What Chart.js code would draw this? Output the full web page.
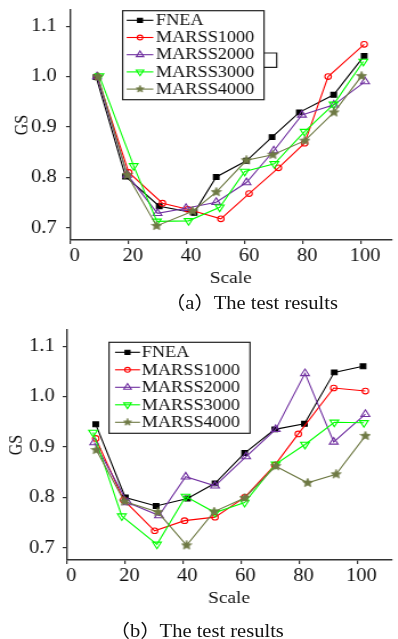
<!DOCTYPE html>
<html><head><meta charset="utf-8">
<script src="https://cdn.jsdelivr.net/npm/chart.js@4/dist/chart.umd.min.js"></script>
<style>
html,body{margin:0;padding:0;background:#fff;}
#stage{position:absolute;left:0;top:0;width:349px;height:639px;transform:scaleX(1.14);transform-origin:0 0;}
canvas{position:absolute;left:0;}
.cap{position:absolute;font-size:18px;font-family:"Liberation Serif","Noto Sans CJK SC",serif;line-height:20px;white-space:nowrap;color:#111;}
</style></head><body>
<div id="stage">
<canvas id="ca" width="349" height="290" style="top:0;width:349px;height:290px"></canvas>
<div class="cap" style="left:144.5px;top:293px">（a）<span style="margin-left:-1px">The test results</span></div>
<canvas id="cb" width="349" height="290" style="top:320px;width:349px;height:290px"></canvas>
<div class="cap" style="left:96px;top:621px">（b）<span style="margin-left:-1px">The test results</span></div>
</div>
<script>
const seriesNames = ['FNEA','MARSS1000','MARSS2000','MARSS3000','MARSS4000'];
const xTicks = [0,20,40,60,80,100];
const yTicks = [0.7,0.8,0.9,1.0,1.1];
const xTitle = 'Scale';
const yTitle = 'GS';

// (a)
const aFneaX = [9.0, 19.1, 30.7, 42.7, 50.3, 60.7, 69.5, 78.9, 90.7, 101.2];
const aFneaY = [0.999, 0.802, 0.743, 0.730, 0.801, 0.833, 0.880, 0.929, 0.964, 1.041];
const a1000X = [9.4, 20.2, 31.8, 40.5, 51.9, 61.6, 71.7, 80.7, 88.8, 101.2];
const a1000Y = [1.000, 0.810, 0.749, 0.737, 0.718, 0.768, 0.819, 0.868, 1.000, 1.064];
const a2000X = [9.3, 19.7, 30.1, 39.9, 50.3, 60.7, 70.1, 79.8, 90.8, 101.5];
const a2000Y = [1.000, 0.805, 0.729, 0.739, 0.751, 0.790, 0.853, 0.924, 0.944, 0.990];
const a3000X = [10.1, 21.9, 29.9, 40.8, 51.5, 60.1, 70.3, 80.7, 90.7, 100.9];
const a3000Y = [1.001, 0.823, 0.713, 0.714, 0.741, 0.812, 0.827, 0.891, 0.945, 1.030];
const a4000X = [9.6, 19.7, 29.8, 42.2, 50.3, 60.7, 69.8, 80.8, 90.8, 100.3];
const a4000Y = [1.000, 0.805, 0.704, 0.733, 0.771, 0.834, 0.845, 0.873, 0.929, 1.001];

// (b)
const bFneaX = [10.0, 20.2, 30.8, 41.6, 51.1, 61.3, 71.7, 81.9, 92.2, 102.1];
const bFneaY = [0.945, 0.800, 0.783, 0.798, 0.828, 0.888, 0.935, 0.946, 1.048, 1.060];
const b1000X = [10.0, 19.6, 30.3, 40.6, 51.1, 61.3, 71.7, 79.8, 92.0, 102.9];
const b1000Y = [0.917, 0.795, 0.734, 0.754, 0.761, 0.800, 0.864, 0.926, 1.017, 1.011];
const b2000X = [9.5, 21.0, 31.8, 41.0, 51.1, 61.8, 72.0, 82.1, 92.0, 102.9];
const b2000Y = [0.909, 0.790, 0.764, 0.841, 0.823, 0.881, 0.935, 1.046, 0.910, 0.965];
const b3000X = [9.1, 19.0, 31.1, 41.0, 51.1, 61.3, 72.0, 82.1, 92.2, 102.4];
const b3000Y = [0.929, 0.763, 0.707, 0.802, 0.770, 0.790, 0.866, 0.905, 0.949, 0.948];
const b4000X = [10.2, 19.9, 31.4, 41.3, 50.8, 61.3, 72.0, 83.0, 92.8, 102.9];
const b4000Y = [0.894, 0.792, 0.771, 0.705, 0.772, 0.799, 0.862, 0.829, 0.846, 0.922];

function makeStar(size, color){
  const c = document.createElement('canvas');
  c.width = size; c.height = size;
  const g = c.getContext('2d');
  const cx = size/2, cy = size/2, R = size/2 - 0.4, r = R*0.45;
  g.beginPath();
  for (let i=0;i<10;i++){
    const ang = -Math.PI/2 + i*Math.PI/5;
    const rr = i%2===0 ? R : r;
    const px = cx + rr*Math.cos(ang), py = cy + rr*Math.sin(ang);
    if (i===0) g.moveTo(px,py); else g.lineTo(px,py);
  }
  g.closePath();
  g.fillStyle = color; g.fill();
  g.strokeStyle = color; g.lineWidth = 0.8; g.stroke();
  return c;
}
const olive = '#6f7a45';
const starBig = makeStar(10, olive);
const starSmall = makeStar(8, olive);

const styles = [
  {borderColor:'#000000', pointStyle:'rect', pointRadius:3.4, pointBackgroundColor:'#000000', legendRadius:3},
  {borderColor:'#ff0000', pointStyle:'circle', pointRadius:2.8, pointBackgroundColor:'rgba(0,0,0,0)', legendRadius:2.4},
  {borderColor:'#7030a0', pointStyle:'triangle', pointRadius:4.4, pointBackgroundColor:'rgba(0,0,0,0)', legendRadius:3.8},
  {borderColor:'#00ff00', pointStyle:'triangle', pointRotation:180, pointRadius:4.4, pointBackgroundColor:'rgba(0,0,0,0)', legendRadius:3.8},
  {borderColor:olive, pointStyle:starBig, pointRadius:4.5, pointBackgroundColor:olive, legendStyle:starSmall, legendRadius:3.5}
];

function pts(xs, ys){ return xs.map((x,i)=>({x:x, y:ys[i]})); }

function buildDatasets(list){
  return list.map((xy,i)=>Object.assign({
    label: seriesNames[i],
    data: pts(xy[0], xy[1]),
    borderWidth: 1.1,
    pointBorderWidth: 1.1,
    pointBorderColor: styles[i].borderColor,
    fill: false,
    tension: 0,
    order: 5 - i
  }, styles[i]));
}

const LEGEND_FONT = '16px "Liberation Serif", serif';

const boxLegend = {
  id:'boxLegend',
  afterDraw(chart, args, o){
    const ctx = chart.ctx;
    ctx.save();
    ctx.lineWidth = 1.2; ctx.strokeStyle = '#222';
    ctx.strokeRect(o.box[0], o.box[1], o.box[2]-o.box[0], o.box[3]-o.box[1]);
    if (o.tab){
      ctx.beginPath();
      ctx.moveTo(o.tab[0], o.tab[1]); ctx.lineTo(o.tab[2], o.tab[1]);
      ctx.lineTo(o.tab[2], o.tab[3]); ctx.lineTo(o.tab[0], o.tab[3]);
      ctx.stroke();
    }
    chart.data.datasets.forEach((ds,i)=>{
      const y = o.y0 + i*o.dy;
      ctx.strokeStyle = ds.borderColor; ctx.lineWidth = 1.1;
      ctx.beginPath(); ctx.moveTo(o.x1, y); ctx.lineTo(o.x2, y); ctx.stroke();
      const mx = (o.x1 + o.x2)/2;
      ctx.fillStyle = ds.pointBackgroundColor; ctx.strokeStyle = ds.borderColor; ctx.lineWidth = 1.1;
      const st = ds.legendStyle || ds.pointStyle;
      if (Chart.helpers && Chart.helpers.drawPoint){
        Chart.helpers.drawPoint(ctx, {pointStyle: st, rotation: ds.pointRotation||0, radius: ds.legendRadius, borderWidth: 1.1}, mx, y);
      }
      ctx.fillStyle = '#111';
      ctx.font = LEGEND_FONT;
      ctx.textBaseline = 'middle'; ctx.textAlign = 'left';
      ctx.fillText(ds.label, o.tx, y + 0.5);
    });
    ctx.restore();
  }
};

const serif = '"Liberation Serif", serif';

function makeChart(id, lists, cfg){
  return new Chart(document.getElementById(id), {
    type: 'line',
    data: { datasets: buildDatasets(lists) },
    plugins: [boxLegend],
    options: {
      responsive: false,
      animation: false,
      devicePixelRatio: 1,
      layout: { padding: { top: 10, right: 0, bottom: 0, left: 0 } },
      plugins: {
        legend: { display: false },
        tooltip: { enabled: false },
        boxLegend: cfg.legend
      },
      scales: {
        x: {
          type: 'linear', min: 0, max: cfg.xMax,
          afterBuildTicks: s => { s.ticks = xTicks.map(v=>({value:v})); },
          afterFit: s => { s.height = 50; s.paddingLeft = 0; s.paddingRight = 0; },
          border: { color: '#333', width: 1.4 },
          grid: { drawOnChartArea: false, drawTicks: true, tickLength: 4, color: '#333', lineWidth: 1.2 },
          ticks: { font: { family: serif, size: 18 }, color: '#111', padding: 1.2, labelOffset: 4, maxRotation: 0, autoSkip: false, callback: v => String(v) },
          title: { display: true, text: xTitle, font: { family: serif, size: 17 }, color: '#111', padding: { top: 0, bottom: 1.5 } }
        },
        y: {
          type: 'linear', min: 0.676, max: 1.132,
          afterBuildTicks: s => { s.ticks = yTicks.map(v=>({value:v})); },
          afterFit: s => { s.width = cfg.yW; s.paddingTop = 0; s.paddingBottom = 0; },
          border: { color: '#333', width: 1.4 },
          grid: { drawOnChartArea: false, drawTicks: true, tickLength: 3.5, color: '#333', lineWidth: 1.2 },
          ticks: { font: { family: serif, size: 18 }, color: '#111', padding: cfg.yPad, callback: v => Number(v).toFixed(1) },
          title: { display: true, text: yTitle, font: { family: serif, size: 16 }, color: '#111', padding: { top: cfg.yTitlePad, bottom: 0 } }
        }
      }
    }
  });
}

function drawAll(){
  makeChart('ca', [[aFneaX,aFneaY],[a1000X,a1000Y],[a2000X,a2000Y],[a3000X,a3000Y],[a4000X,a4000Y]], {
    xMax: 110.6, yW: 61.4, yPad: 8.2, yTitlePad: 10.5,
    legend: { box:[107.6,10.7,231.6,99.7], tab:[231.6,53,242.7,67.3], x1:111.1, x2:134.5, tx:136.8, y0:20.3, dy:17.2 }
  });
  makeChart('cb', [[bFneaX,bFneaY],[b1000X,b1000Y],[b2000X,b2000Y],[b3000X,b3000Y],[b4000X,b4000Y]], {
    xMax: 111.9, yW: 58.5, yPad: 7.1, yTitlePad: 5.5,
    legend: { box:[95.6,22.3,219.3,113.3], x1:100.9, x2:122.8, tx:124.3, y0:32.3, dy:17.5 }
  });
}

let done = false;
function go(){ if (!done){ done = true; drawAll(); } }
if (document.fonts && document.fonts.load){
  Promise.all([
    document.fonts.load('16px "Liberation Serif"'),
    document.fonts.load('18px "Liberation Serif"'),
    document.fonts.load('18px "Noto Sans CJK SC"')
  ]).then(go, go);
  setTimeout(go, 1500);
} else { go(); }
</script>
</body></html>
